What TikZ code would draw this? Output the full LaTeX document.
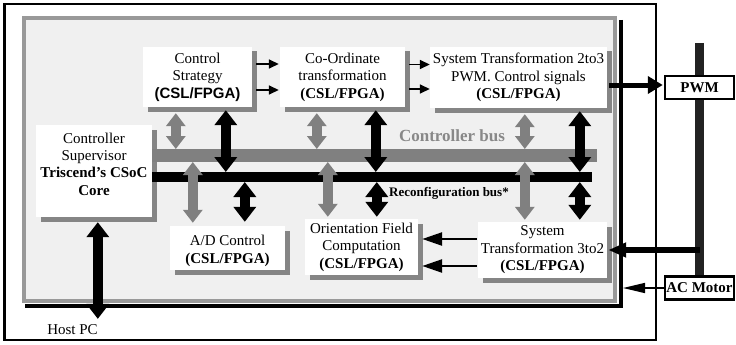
\documentclass[tikz,border=0pt]{standalone}
\usepackage{fontspec}
\setmainfont{Liberation Serif}
\newfontfamily\arialfont{Liberation Sans}
\usetikzlibrary{arrows.meta,shadows,calc}
\definecolor{panelfill}{HTML}{F0F0F0}
\definecolor{panelborder}{HTML}{999999}
\definecolor{shadowgray}{HTML}{858585}
\definecolor{busgray}{HTML}{808080}
\definecolor{labelgray}{HTML}{888888}
\definecolor{bardark}{HTML}{222222}
\begin{document}
\begin{tikzpicture}[x=1pt,y=-1pt,
  box/.style={fill=white, inner sep=0pt, align=center,
    font=\fontsize{15}{17.5}\selectfont,
    drop shadow={shadow xshift=4.5pt, shadow yshift=-4.5pt, fill=shadowgray, opacity=1}},
  txt/.style={inner sep=0pt, align=center, font=\fontsize{15}{17.3}\selectfont},
  extbox/.style={draw=black, line width=2.5pt, fill=white, inner sep=0pt,
    minimum width=69pt, minimum height=23pt, font=\bfseries\fontsize{15}{15}\selectfont},
  gdbl/.style={draw=busgray, line width=9.5pt,
    {Triangle[width=19pt,length=13pt]}-{Triangle[width=19pt,length=13pt]}},
  bdbl/.style={draw=black, line width=10pt,
    {Triangle[width=22pt,length=15pt]}-{Triangle[width=22pt,length=15pt]}},
  smallarr/.style={draw=black, line width=1.5pt, -{Triangle[width=9pt,length=10pt]}},
  fatarr/.style={draw=black, line width=2.5pt, -{Triangle[width=13pt,length=20pt]}},
  pwmarr/.style={draw=black, line width=5pt, -{Triangle[width=17pt,length=15pt]}},
  taparr/.style={draw=black, line width=6pt, -{Triangle[width=14pt,length=18pt]}},
  acarr/.style={draw=black, line width=1.5pt, -{Triangle[width=10pt,length=22pt]}},
  busbar/.style={inner sep=0pt, outer sep=0pt}
]
\useasboundingbox (0,0) rectangle (736,345);
% outer frame
\draw[line width=2.5pt] (4.5,4) rectangle (656,340);
% panel
\node[draw=panelborder, line width=4pt, fill=panelfill, inner sep=0pt,
  minimum width=591pt, minimum height=283pt] (panel) at (319.5,159.5) {};
\draw[line width=4pt] ($(panel.north east)+(4,4)$) -- ($(panel.south east)+(4,3)$) -- ($(panel.south west)+(3,3)$);

% boxes
\node[box, minimum width=109pt, minimum height=60pt] (cs) at (197.5,77)
  {Control\\Strategy\\{\arialfont\bfseries (CSL/FPGA)}};
\node[box, minimum width=125pt, minimum height=60pt] (co) at (342.5,77)
  {Co-Ordinate\\transformation\\\textbf{(CSL/FPGA)}};
\node[box, minimum width=177pt, minimum height=61pt] (st23) at (518.5,77.5)
  {System Transformation 2to3\\PWM. Control signals\\\textbf{(CSL/FPGA)}};
\node[box, minimum width=116pt, minimum height=92pt] (sup) at (94,171) {};
\node[txt] (suptext) at ($(sup.center)+(0,-7)$)
  {Controller\\Supervisor\\\textbf{Triscend’s CSoC}\\\textbf{Core}};
\node[box, minimum width=115pt, minimum height=44pt] (ad) at (227.5,248) {};
\node[txt] (adtext) at ($(ad.center)+(0,3)$) {A/D Control\\\textbf{(CSL/FPGA)}};
\node[box, minimum width=113pt, minimum height=56pt] (ofc) at (361.5,247)
  {Orientation Field\\Computation\\\textbf{(CSL/FPGA)}};
\node[box, minimum width=129pt, minimum height=56pt] (st32) at (542.5,250)
  {System\\Transformation 3to2\\\textbf{(CSL/FPGA)}};

% buses
\node[busbar, fill=busgray, minimum width=445pt, minimum height=13pt] (cbus) at (374.5,155.5) {};
\node[busbar, fill=black, minimum width=440pt, minimum height=10pt] (rbus) at (372,177) {};
\node[font=\bfseries\fontsize{17}{17}\selectfont, text=labelgray] (cbl) at (452,136) {Controller bus};
\node[font=\bfseries\fontsize{13}{13}\selectfont] (rbl) at (449,193) {Reconfiguration bus*};

% upper boxes to buses
\coordinate (g1) at ($(cs.south west)+(33,6)$);
\draw[gdbl] (g1) -- (g1 |- cbus.north);
\coordinate (b1) at ($(cs.south west)+(83,3)$);
\draw[bdbl] (b1) -- (b1 |- rbus.north);
\coordinate (g2) at ($(co.south west)+(37,6)$);
\draw[gdbl] (g2) -- (g2 |- cbus.north);
\coordinate (b2) at ($(co.south west)+(96,3)$);
\draw[bdbl] (b2) -- (b2 |- rbus.north);
\coordinate (g3) at ($(st23.south west)+(95,6)$);
\draw[gdbl] (g3) -- (g3 |- cbus.north);
\coordinate (b3) at ($(st23.south west)+(150,3)$);
\draw[bdbl] (b3) -- (b3 |- rbus.north);

% buses to lower boxes
\coordinate (g4) at ($(ad.north west)+(23,-3)$);
\draw[gdbl] (g4 |- cbus.south) -- (g4);
\coordinate (b4) at ($(ad.north west)+(75,-4)$);
\draw[bdbl] (b4 |- rbus.south) -- (b4);
\coordinate (g5) at ($(ofc.north west)+(23,-2)$);
\draw[gdbl] (g5 |- cbus.south) -- (g5);
\coordinate (b5) at ($(ofc.north west)+(72,-2)$);
\draw[bdbl] (b5 |- rbus.south) -- (b5);
\coordinate (g6) at ($(st32.north west)+(47,-2)$);
\draw[gdbl] (g6 |- cbus.south) -- (g6);
\coordinate (b6) at ($(st32.north west)+(102,-2)$);
\draw[bdbl] (b6 |- rbus.south) -- (b6);

% host PC
\node[txt, anchor=base] (host) at (72.5,334) {Host PC};
\coordinate (b7) at ($(sup.south west)+(62,5)$);
\draw[bdbl] (b7) -- ($(b7 |- host.north)+(0,-5)$);

% small horizontal arrows
\draw[smallarr] ($(cs.east)+(4,-13)$) -- ($(co.west)+(-1,-13)$);
\draw[smallarr] ($(cs.east)+(4,13)$) -- ($(co.west)+(-1,13)$);
\draw[smallarr] ($(co.east)+(4,-12.5)$) -- ($(st23.west)+(0,-13)$);
\draw[smallarr] ($(co.east)+(4,12)$) -- ($(st23.west)+(0,11.5)$);
\coordinate (a1) at ($(st32.west)+(-1,-11)$);
\draw[fatarr] (a1) -- ($(a1 -| ofc.east)+(4,0)$);
\coordinate (a2) at ($(st32.west)+(-1,16)$);
\draw[fatarr] (a2) -- ($(a2 -| ofc.east)+(4,0)$);

% right side: PWM / AC motor
\coordinate (bartop) at (699.5,43);
\coordinate (barbot) at (699.5,276);
\draw[bardark, line width=9pt] (bartop) -- (barbot);
\node[extbox] (pwm) at (699.5,87.5) {PWM};
\node[extbox] (acm) at (699.5,288) {AC Motor};
\coordinate (p1) at ($(st23.east)+(2,7.5)$);
\draw[pwmarr] (p1) -- ($(p1 -| pwm.west)+(-1,0)$);
\draw[taparr] (st32.east -| bartop) -- ($(st32.east)+(1,0)$);
\draw[acarr] (acm.west) -- ($(acm.west -| panel.east)+(6,0)$);
\end{tikzpicture}
\end{document}
